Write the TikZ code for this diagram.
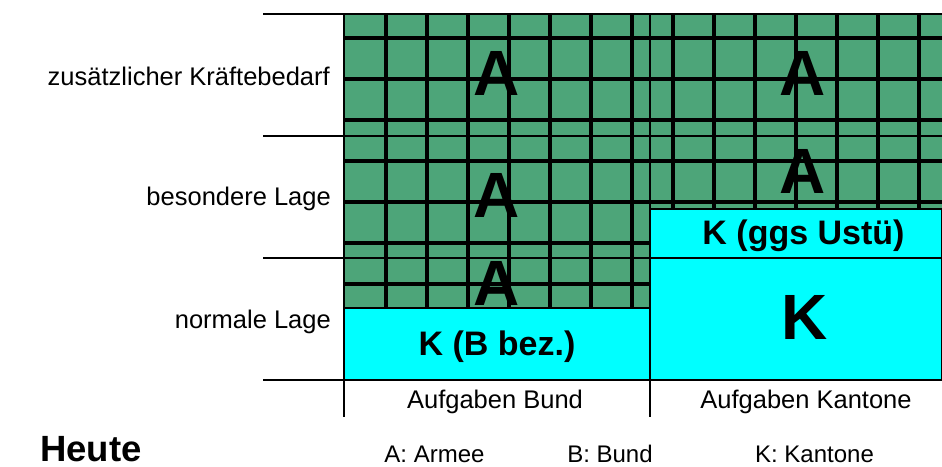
\documentclass[tikz,border=0pt]{standalone}
\usepackage{fontspec}
\setmainfont{Liberation Sans}
\definecolor{plaidgreen}{RGB}{77,165,121}
\definecolor{kanton}{RGB}{0,255,255}
\tikzset{
  rule/.style={line width=1.3pt, black},
  plaid/.style={line width=4pt, black},
  cell/.style={draw=black, line width=1.3pt},
  small/.style={font=\fontsize{25.5}{30}\selectfont, inner sep=0pt},
  legend/.style={font=\fontsize{24}{28}\selectfont, inner sep=0pt, anchor=base},
  bigletter/.style={font=\bfseries\fontsize{64}{70}\selectfont, inner sep=0pt, anchor=base},
  boxlabel/.style={font=\bfseries\fontsize{34}{40}\selectfont, inner sep=0pt, anchor=base},
  title/.style={font=\bfseries\fontsize{36.5}{40}\selectfont, inner sep=0pt, anchor=base west},
}
\begin{document}
\begin{tikzpicture}[x=1pt,y=-1pt]
\useasboundingbox (0,0) rectangle (942,466);

% area covered by the army (plaid)
\def\armyarea{(344,14) -- (942,14) -- (942,209) -- (650,209) -- (650,308) -- (344,308) -- cycle}
\fill[plaidgreen] \armyarea;
\begin{scope}
  \clip \armyarea;
  \foreach \k in {0,...,13} \draw[plaid] ({385.5+41*\k},14) -- ({385.5+41*\k},308);
  \foreach \k in {0,...,6} \draw[plaid] (344,{38+41*\k}) -- (942,{38+41*\k});
\end{scope}

% cantonal boxes
\draw[cell, fill=kanton] (344,308) rectangle (650,380);
\draw[cell, fill=kanton] (650,209) rectangle (942,258);
\draw[cell, fill=kanton] (650,258) rectangle (942,380);

% frame of the table
\draw[rule] (263,14) -- (942,14);
\draw[rule] (263,136) -- (942,136);
\draw[rule] (263,258) -- (942,258);
\draw[rule] (263,380) -- (942,380);
\draw[rule] (344,14) -- (344,417);
\draw[rule] (650,14) -- (650,417);

% row labels
\node[small, anchor=base east] (rowtop) at (330,85) {zusätzlicher Kräftebedarf};
\node[small, anchor=base east] (rowmid) at (331,205) {besondere Lage};
\node[small, anchor=base east] (rowlow) at (331,328) {normale Lage};

% column labels
\node[small, anchor=base] (colbund) at (495,408) {Aufgaben Bund};
\node[small, anchor=base] (colkant) at (806,408) {Aufgaben Kantone};

% letters in the cells
\node[bigletter] (a1) at (497,95) {A};
\node[bigletter] (a2) at (803,95) {A};
\node[bigletter] (a3) at (497,217) {A};
\node[bigletter] (a4) at (803,193) {A};
\node[bigletter] (a5) at (497,305) {A};
\node[bigletter] (kbig) at (805,339) {K};
\node[boxlabel] (kbund) at (497,355) {K (B bez.)};
\node[boxlabel] (kustue) at (803.5,244) {K (ggs Ustü)};

% caption and legend
\node[title] (heute) at (40,461) {Heute};
\node[legend] (legA) at (434.5,462) {A: Armee};
\node[legend] (legB) at (610,462) {B: Bund};
\node[legend] (legK) at (814.5,462) {K: Kantone};
\end{tikzpicture}
\end{document}
